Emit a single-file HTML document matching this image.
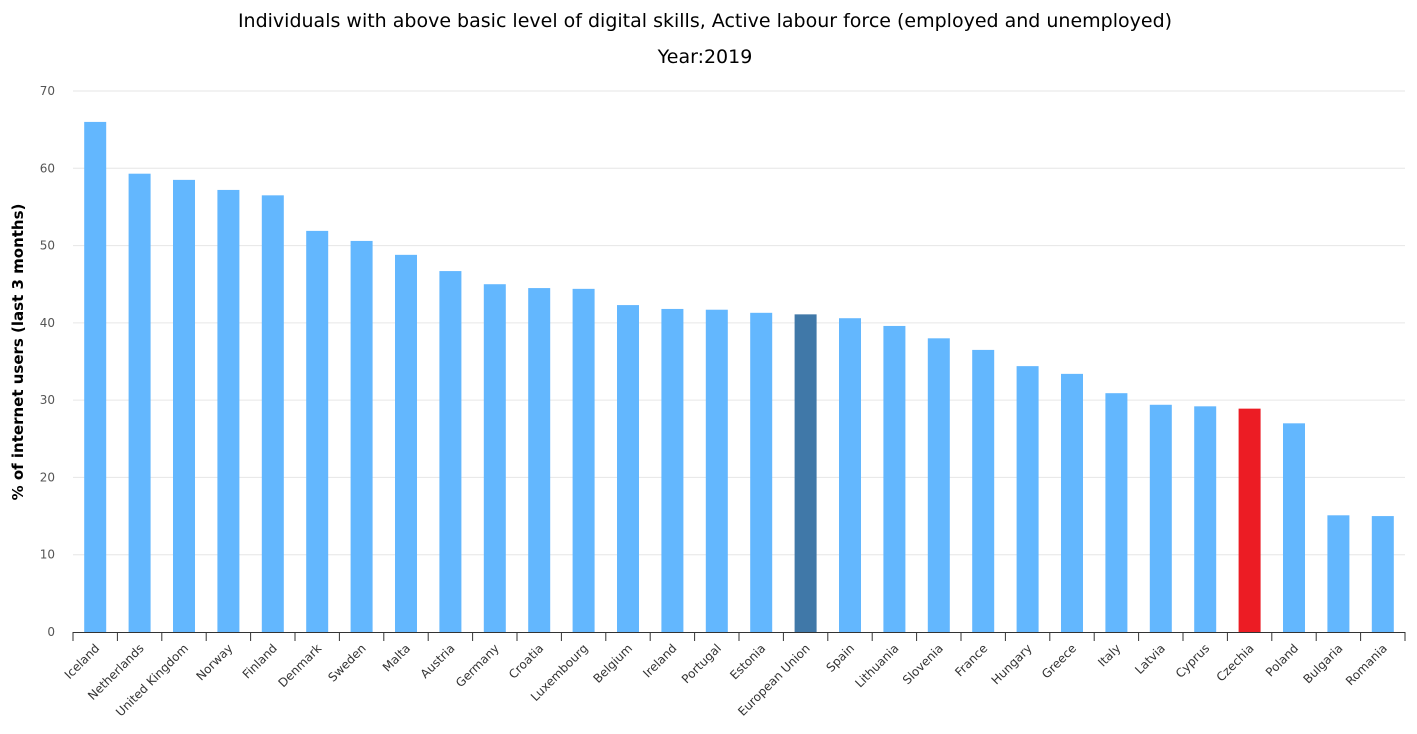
<!DOCTYPE html>
<html><head><meta charset="utf-8"><style>
html,body{margin:0;padding:0;background:#fff;}
svg{display:block;font-family:"DejaVu Sans","Liberation Sans",sans-serif;}
</style></head><body>
<svg id="chart" width="1417" height="734">
<text x="705" y="27" text-anchor="middle" font-size="19" fill="#000">Individuals with above basic level of digital skills, Active labour force (employed and unemployed)</text>
<text x="705" y="63" text-anchor="middle" font-size="19" fill="#000">Year:2019</text>
<text transform="translate(23,352) rotate(-90)" text-anchor="middle" font-size="15" font-weight="bold" fill="#000">% of internet users (last 3 months)</text>
<g id="grid"></g><g id="bars"></g><g id="xaxis"></g>
</svg>
<script>
const categories=["Iceland","Netherlands","United Kingdom","Norway","Finland","Denmark","Sweden","Malta","Austria","Germany","Croatia","Luxembourg","Belgium","Ireland","Portugal","Estonia","European Union","Spain","Lithuania","Slovenia","France","Hungary","Greece","Italy","Latvia","Cyprus","Czechia","Poland","Bulgaria","Romania"];
const values=[66.0,59.3,58.5,57.2,56.5,51.9,50.6,48.8,46.7,45.0,44.5,44.4,42.3,41.8,41.7,41.3,41.1,40.6,39.6,38.0,36.5,34.4,33.4,30.9,29.4,29.2,28.9,27.0,15.1,15.0];
const yTicks=[0,10,20,30,40,50,60,70];
const NS="http://www.w3.org/2000/svg";
const x0=73,x1=1405,y0=632,yTop=91,yMax=70;
const band=(x1-x0)/categories.length;
const y=v=>y0-(v/yMax)*(y0-yTop);
const xc=i=>x0+band*(i+0.5);
function mk(t,a,p){const e=document.createElementNS(NS,t);for(const k in a)e.setAttribute(k,a[k]);p.appendChild(e);return e;}
const grid=document.getElementById('grid'),bars=document.getElementById('bars'),xa=document.getElementById('xaxis');
yTicks.forEach(t=>{
  if(t>0){const l=mk('line',{x1:x0,x2:x1,y1:y(t),y2:y(t),stroke:'#e6e6e6','stroke-width':1},grid);
  
  }
  const tx=mk('text',{x:55,y:y(t)+4,'text-anchor':'end','font-size':12,fill:'#555'},grid);
  tx.textContent=t;
  
  
});
categories.forEach((c,i)=>{
  let col='#63b7fe';
  if(c==='European Union')col='#4078a8';
  if(c==='Czechia')col='#ec1c24';
  const r=mk('rect',{x:xc(i)-11,y:y(values[i]),width:22,height:y0-y(values[i]),fill:col},bars);
  
  
  const tk=mk('line',{x1:x0+band*i,x2:x0+band*i,y1:y0,y2:y0+9,stroke:'#333'},xa);
  
  
  const lb=mk('text',{transform:`translate(${xc(i)+5},${y0+17}) rotate(-45)`,'text-anchor':'end','font-size':12,fill:'#333'},xa);
  lb.textContent=c;
  
  
});
const lt=mk('line',{x1:x1,x2:x1,y1:y0,y2:y0+9,stroke:'#333'},xa);


const ax=mk('line',{x1:x0,x2:x1,y1:y0+0.5,y2:y0+0.5,stroke:'#333','stroke-width':1},xa);


</script>
</body></html>
